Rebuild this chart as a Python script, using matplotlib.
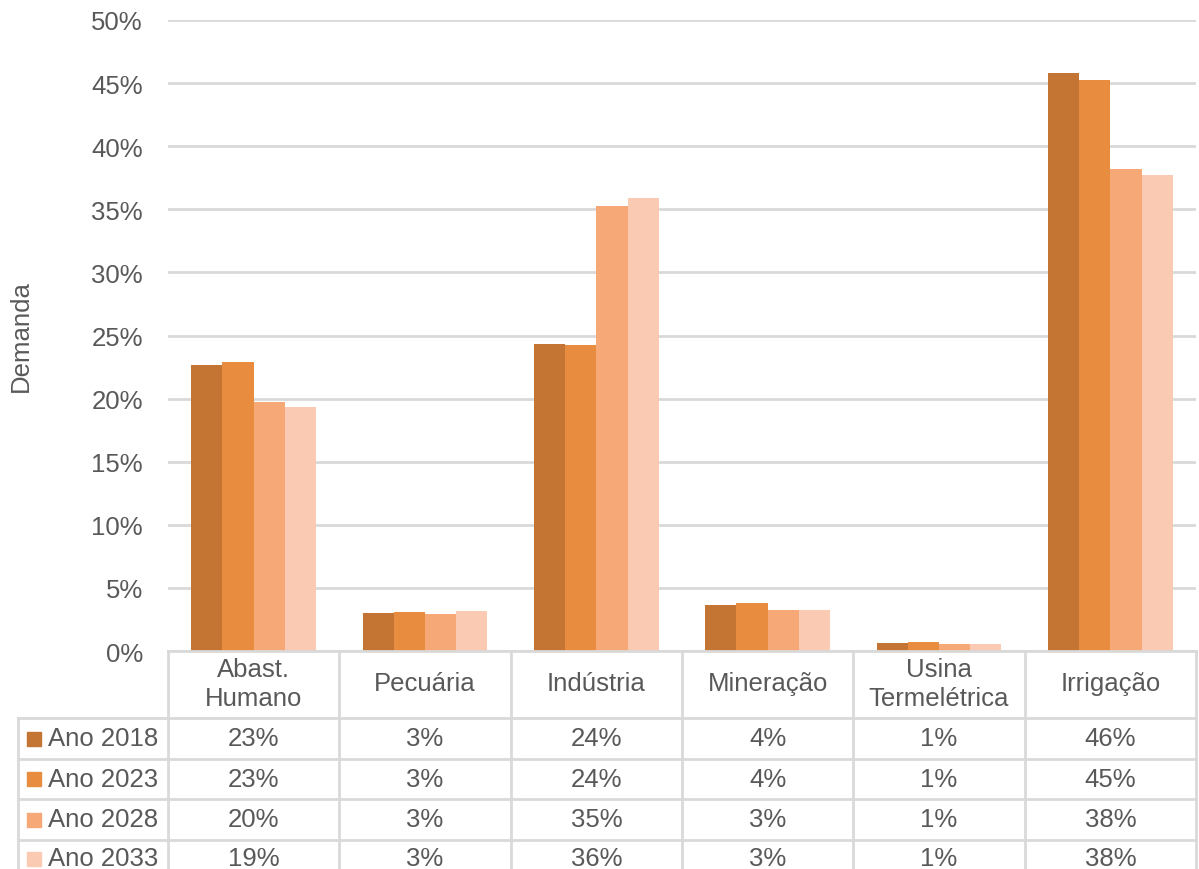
import matplotlib
matplotlib.use("Agg")
import matplotlib.pyplot as plt
from matplotlib.lines import Line2D
from matplotlib.patches import Rectangle
import numpy as np

categories = ["Abast.\nHumano", "Pecuária", "Indústria", "Mineração", "Usina\nTermelétrica", "Irrigação"]
series_names = ["Ano 2018", "Ano 2023", "Ano 2028", "Ano 2033"]
ano_2018 = [22.7, 3.0, 24.3, 3.65, 0.63, 45.8]
ano_2023 = [22.9, 3.1, 24.25, 3.8, 0.68, 45.25]
ano_2028 = [19.7, 2.9, 35.3, 3.25, 0.56, 38.2]
ano_2033 = [19.3, 3.15, 35.9, 3.25, 0.56, 37.7]
series = [ano_2018, ano_2023, ano_2028, ano_2033]
colors = ["#C47533", "#E88C3F", "#F7A877", "#FACAB3"]
yticks = [0, 5, 10, 15, 20, 25, 30, 35, 40, 45, 50]

plt.rcParams['font.family'] = ['Liberation Sans', 'DejaVu Sans']
W, H = 1199, 870
fig = plt.figure(figsize=(W / 100, H / 100), dpi=100)

ax_l, ax_r, ax_b, ax_t = 168, 1196, 652, 21  # pixel coords (y from top)
ax = fig.add_axes([ax_l / W, 1 - ax_b / H, (ax_r - ax_l) / W, (ax_b - ax_t) / H])

text_col = "#595959"
grid_col = "#D9D9D9"
fs = 18.5

n = len(categories)
x = np.arange(n)
bw = 0.182
for i, (vals, c) in enumerate(zip(series, colors)):
    ax.bar(x + (i - 1.5) * bw, vals, width=bw, color=c, zorder=3, linewidth=0)

ax.set_xlim(-0.5, n - 0.5)
ax.set_ylim(0, 50)
ax.set_yticks(yticks)
ax.set_yticklabels([f"{v}%" for v in yticks], fontsize=fs, color=text_col)
ax.tick_params(axis='y', length=0, pad=18)
ax.set_xticks([])
ax.grid(axis='y', color=grid_col, linewidth=2, zorder=0)
for s in ax.spines.values():
    s.set_visible(False)
ax.set_ylabel("Demanda", fontsize=fs, color=text_col, labelpad=42)

def fx(px):
    return px / W

def fy(py):
    return 1 - py / H

cat_w = (ax_r - ax_l) / n
bounds = [ax_l + k * cat_w for k in range(n + 1)]
row_y = [652, 719, 760, 800, 841, 882]
tab_left = 18
lw = 2

def hline(y, x0, x1):
    fig.add_artist(Line2D([fx(x0), fx(x1)], [fy(y), fy(y)], color=grid_col, lw=lw, zorder=5))

def vline(xp, y0, y1):
    fig.add_artist(Line2D([fx(xp), fx(xp)], [fy(y0), fy(y1)], color=grid_col, lw=lw, zorder=5))

hline(row_y[0], ax_l, ax_r)
for y in row_y[1:-1]:
    hline(y, tab_left, ax_r)
vline(tab_left, row_y[1], H + 5)
for b in bounds:
    vline(b, row_y[0], H + 5)

for k, cat in enumerate(categories):
    cx = (bounds[k] + bounds[k + 1]) / 2
    fig.text(fx(cx), fy((row_y[0] + row_y[1]) / 2 - 1), cat, ha='center', va='center',
             fontsize=fs, color=text_col, linespacing=1.25)

for r, (name, vals, c) in enumerate(zip(series_names, series, colors)):
    cy = (row_y[r + 1] + row_y[r + 2]) / 2 if r < 3 else (row_y[r + 1] + 870) / 2 + 4
    fig.add_artist(Rectangle((fx(27), fy(cy + 7)), 14 / W, 14 / H, color=c, transform=fig.transFigure))
    fig.text(fx(48), fy(cy), name, ha='left', va='center', fontsize=fs, color=text_col)
    for k, v in enumerate(vals):
        cx = (bounds[k] + bounds[k + 1]) / 2
        fig.text(fx(cx), fy(cy), f"{round(v)}%", ha='center', va='center', fontsize=fs, color=text_col)

fig.savefig("out.png", dpi=100)
